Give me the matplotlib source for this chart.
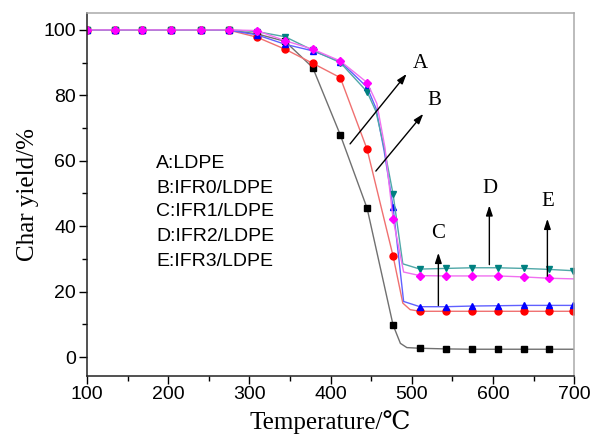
import matplotlib
matplotlib.use('Agg')
import matplotlib.pyplot as plt
from matplotlib.ticker import MultipleLocator

# ---- data ----
temp_a = [100, 134, 168, 204, 240, 275, 309, 344, 378, 412, 445, 477, 486, 494, 510, 542, 574, 606, 638, 669, 700]
yield_a = [100, 100, 100, 100, 100, 99.9, 98.8, 96.5, 88.5, 67.9, 45.5, 9.8, 4.2, 2.9, 2.7, 2.5, 2.4, 2.4, 2.4, 2.4, 2.4]
mark_a = [0, 1, 2, 3, 4, 5, 6, 7, 8, 9, 10, 11, 14, 15, 16, 17, 18, 19]

temp_b = [100, 134, 168, 204, 240, 275, 309, 344, 378, 412, 445, 477, 489, 498, 510, 542, 574, 606, 638, 669, 699]
yield_b = [100, 100, 100, 100, 100, 99.9, 97.8, 94.1, 89.8, 85.4, 63.5, 30.9, 16.5, 14.5, 14.0, 14.0, 14.0, 14.0, 14.0, 14.0, 14.0]
mark_b = [0, 1, 2, 3, 4, 5, 6, 7, 8, 9, 10, 11, 14, 15, 16, 17, 18, 19, 20]

temp_c = [100, 134, 168, 204, 240, 275, 309, 344, 378, 412, 445, 456, 466, 477, 490, 510, 542, 574, 606, 638, 669, 699]
yield_c = [100, 100, 100, 100, 100, 99.9, 98.5, 95.6, 93.6, 90.3, 82.5, 76.0, 63.0, 45.9, 17.0, 15.4, 15.4, 15.6, 15.7, 15.8, 15.8, 15.8]
mark_c = [0, 1, 2, 3, 4, 5, 6, 7, 8, 9, 10, 13, 15, 16, 17, 18, 19, 20, 21]

temp_d = [100, 134, 168, 204, 240, 275, 309, 344, 378, 412, 445, 456, 466, 477, 489, 510, 542, 574, 606, 638, 669, 699]
yield_d = [100, 100, 100, 100, 100, 100, 99.5, 97.9, 93.8, 90.0, 81.1, 75.0, 64.0, 49.8, 28.5, 26.9, 27.1, 27.3, 27.3, 27.1, 26.8, 26.4]
mark_d = [0, 1, 2, 3, 4, 5, 6, 7, 8, 9, 10, 13, 15, 16, 17, 18, 19, 20, 21]

temp_e = [100, 134, 168, 204, 240, 275, 309, 344, 378, 412, 445, 457, 467, 477, 490, 510, 542, 574, 606, 638, 669, 700]
yield_e = [100, 100, 100, 100, 100, 100, 99.8, 96.7, 94.1, 90.5, 83.9, 77.5, 64.0, 42.2, 26.0, 24.9, 24.8, 24.8, 24.8, 24.5, 24.1, 23.9]
mark_e = [0, 1, 2, 3, 4, 5, 6, 7, 8, 9, 10, 13, 15, 16, 17, 18, 19, 20]

legend_lines = ["A:LDPE", "B:IFR0/LDPE", "C:IFR1/LDPE", "D:IFR2/LDPE", "E:IFR3/LDPE"]
legend_y = [59.2, 51.6, 44.4, 36.8, 29.1]

x_ticks = [100, 200, 300, 400, 500, 600, 700]
y_ticks = [0, 20, 40, 60, 80, 100]

SERIF = ['Liberation Serif', 'DejaVu Serif']
SANS = ['Liberation Sans', 'DejaVu Sans']

fig = plt.figure(figsize=(5.94, 4.44), dpi=100)
ax = fig.add_axes([0.1465, 0.153, 0.820, 0.818])

series = [
    (temp_a, yield_a, mark_a, 's', '#000000', '#707070'),
    (temp_b, yield_b, mark_b, 'o', '#ff0000', '#f07070'),
    (temp_c, yield_c, mark_c, '^', '#0000ff', '#6060ff'),
    (temp_d, yield_d, mark_d, 'v', '#008080', '#50a8a8'),
    (temp_e, yield_e, mark_e, 'D', '#ff00ff', '#f070f0'),
]
for xs, ys, mk, m, mc, lc in series:
    ax.plot(xs, ys, color=lc, lw=1.0, marker=m, markevery=mk,
            markersize=5 if m != 'D' else 4.5, markerfacecolor=mc, markeredgecolor=mc)

ax.set_xlim(100, 700)
ax.set_ylim(-5.8, 105.2)
ax.set_xticks(x_ticks)
ax.set_yticks(y_ticks)
ax.xaxis.set_minor_locator(MultipleLocator(50))
ax.yaxis.set_minor_locator(MultipleLocator(10))
ax.tick_params(which='major', direction='out', length=6, width=1, labelsize=14)
ax.tick_params(axis='x', which='major', pad=1.5)
ax.tick_params(axis='y', which='major', pad=2)
ax.tick_params(which='minor', direction='out', length=3.5, width=1)
ax.tick_params(top=False, right=False, which='both')
for lab in ax.get_xticklabels() + ax.get_yticklabels():
    lab.set_family(SANS)

ax.spines['left'].set_color('#222222')
ax.spines['bottom'].set_color('#222222')
ax.spines['top'].set_color('#aaaaaa')
ax.spines['right'].set_color('#aaaaaa')
for s in ax.spines.values():
    s.set_linewidth(1.1)

ax.set_xlabel('Temperature/\u2103', family=SERIF, fontsize=18, labelpad=5)
ax.set_ylabel('Char yield/%', family=SERIF, fontsize=18, labelpad=3)

arrow_kw = dict(arrowstyle='-|>,head_length=0.6,head_width=0.2', color='black', lw=1.0, mutation_scale=10)
ax.annotate('', xy=(495.8, 87.2), xytext=(421.9, 64.5), arrowprops=arrow_kw)
ax.text(510.3, 89.8, 'A', family=SERIF, fontsize=15, ha='center', va='center')
ax.annotate('', xy=(516.4, 75.0), xytext=(453.6, 56.2), arrowprops=arrow_kw)
ax.text(528, 78.5, 'B', family=SERIF, fontsize=15, ha='center', va='center')
ax.annotate('', xy=(532.8, 32.7), xytext=(532.8, 14.9), arrowprops=arrow_kw)
ax.text(532.8, 37.8, 'C', family=SERIF, fontsize=15, ha='center', va='center')
ax.annotate('', xy=(595.6, 47.2), xytext=(595.6, 27.4), arrowprops=arrow_kw)
ax.text(596.5, 51.5, 'D', family=SERIF, fontsize=15, ha='center', va='center')
ax.annotate('', xy=(667.1, 43.1), xytext=(667.1, 23.9), arrowprops=arrow_kw)
ax.text(668, 47.5, 'E', family=SERIF, fontsize=15, ha='center', va='center')

for txt, yv in zip(legend_lines, legend_y):
    ax.text(185, yv, txt, family=SANS, fontsize=14, ha='left', va='center')

fig.savefig('out.png', dpi=100)
